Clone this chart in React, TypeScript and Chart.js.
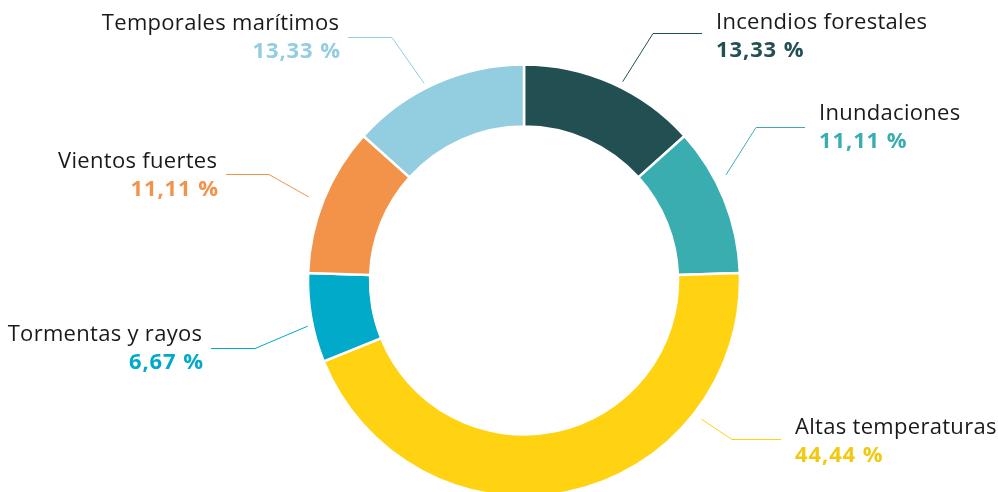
import React, { useEffect, useRef } from 'react';
import { Chart, registerables } from 'chart.js';

Chart.register(...registerables);

const categories = [
  'Incendios forestales',
  'Inundaciones',
  'Altas temperaturas',
  'Tormentas y rayos',
  'Vientos fuertes',
  'Temporales marítimos',
];
const percentages = [13.33, 11.11, 44.44, 6.67, 11.11, 13.33];
const percentLabels = ['13,33 %', '11,11 %', '44,44 %', '6,67 %', '11,11 %', '13,33 %'];
const sliceColors = ['#225052', '#3aadb0', '#ffd311', '#00aac8', '#f39249', '#93cde0'];
const textColors = ['#225052', '#3aadb0', '#f2c811', '#00aac8', '#f39249', '#93cde0'];

type Layout = {
  frac: number;
  gap: number;
  elbowX: number;
  lineY: number;
  endX: number;
  textX: number;
  baseY: number;
  align: 'left' | 'right';
};

const labelLayout: Layout[] = [
  { frac: 0.55, gap: 6, elbowX: 653, lineY: 33, endX: 702, textX: 716, baseY: 29, align: 'left' },
  { frac: 0.36, gap: 12, elbowX: 756, lineY: 127, endX: 805, textX: 819, baseY: 120, align: 'left' },
  { frac: 0.25, gap: 9, elbowX: 732, lineY: 439, endX: 781, textX: 795, baseY: 434, align: 'left' },
  { frac: 0.42, gap: 5, elbowX: 255, lineY: 348, endX: 211, textX: 202, baseY: 341, align: 'right' },
  { frac: 0.48, gap: 15, elbowX: 269, lineY: 174, endX: 226, textX: 217, baseY: 168, align: 'right' },
  { frac: 0.44, gap: 5, elbowX: 392, lineY: 37, endX: 348, textX: 339, baseY: 30, align: 'right' },
];

const FONT = '"Open Sans", "DejaVu Sans", sans-serif';
const LABEL_SPACING = 0.3;
const PCT_SPACING = 0.9;

const labelsPlugin = {
  id: 'leaderLabels',
  afterDraw(chart: any) {
    const ctx = chart.ctx as any;
    const meta = chart.getDatasetMeta(0);
    meta.data.forEach((el: any, i: number) => {
      const L = labelLayout[i];
      const a = el.startAngle + L.frac * (el.endAngle - el.startAngle);
      const r = el.outerRadius + L.gap;
      const sx = el.x + Math.cos(a) * r;
      const sy = el.y + Math.sin(a) * r;
      ctx.save();
      ctx.strokeStyle = sliceColors[i];
      ctx.lineWidth = 1;
      ctx.beginPath();
      ctx.moveTo(sx, sy);
      ctx.lineTo(L.elbowX, L.lineY + 0.5);
      ctx.lineTo(L.endX, L.lineY + 0.5);
      ctx.stroke();
      const right = L.align === 'right';
      ctx.textAlign = L.align;
      ctx.textBaseline = 'alphabetic';
      ctx.fillStyle = '#1a1a1a';
      ctx.font = `400 22px ${FONT}`;
      ctx.letterSpacing = `${LABEL_SPACING}px`;
      ctx.fillText(categories[i], L.textX + (right ? LABEL_SPACING : 0), L.baseY);
      ctx.fillStyle = textColors[i];
      ctx.font = `700 22px ${FONT}`;
      ctx.letterSpacing = `${PCT_SPACING}px`;
      ctx.fillText(percentLabels[i], L.textX + (right ? PCT_SPACING + 1 : 0), L.baseY + 28);
      ctx.restore();
    });
  },
};

export default function App() {
  const ref = useRef<HTMLCanvasElement | null>(null);
  useEffect(() => {
    if (!ref.current) return;
    const chart = new Chart(ref.current, {
      type: 'doughnut',
      data: {
        labels: categories,
        datasets: [
          {
            data: percentages,
            backgroundColor: sliceColors,
            borderColor: '#ffffff',
            borderWidth: 2.5,
            radius: 216,
            cutout: '71.3%',
          } as any,
        ],
      },
      options: {
        responsive: false,
        animation: false,
        layout: { padding: { left: 50, right: 0, top: 69, bottom: 0 } },
        plugins: {
          legend: { display: false },
          tooltip: { enabled: false },
        },
      },
      plugins: [labelsPlugin],
    });
    return () => chart.destroy();
  }, []);
  return (
    <div style={{ position: 'fixed', left: 0, top: 0, width: 998, height: 492, background: '#fff' }}>
      <canvas ref={ref} width={998} height={492} style={{ display: 'block' }} />
    </div>
  );
}
